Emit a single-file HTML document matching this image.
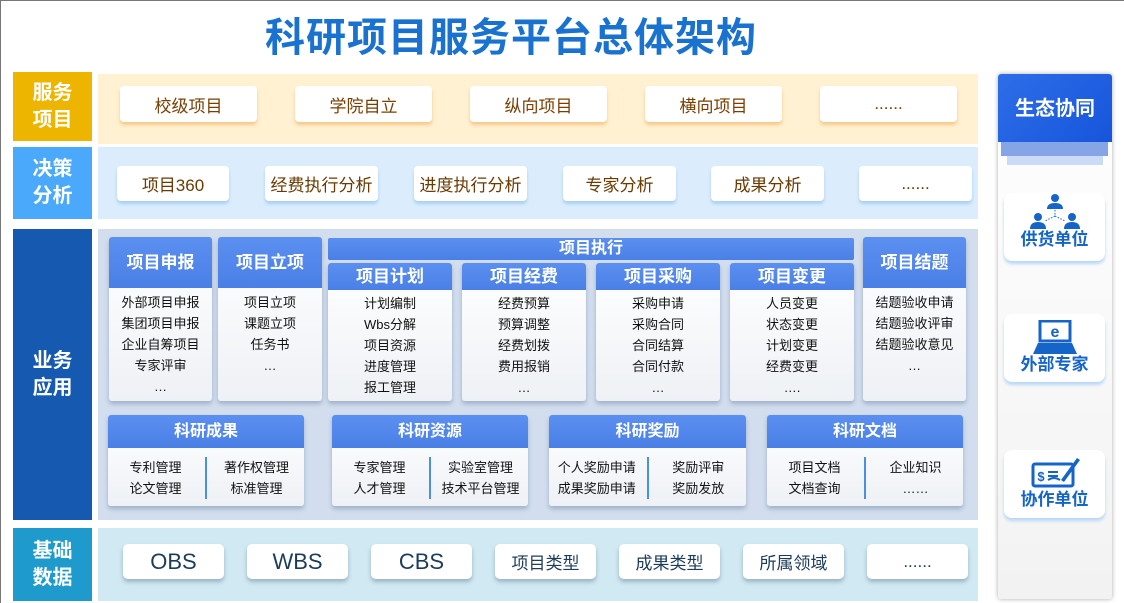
<!DOCTYPE html>
<html><head><meta charset="utf-8"><style>
*{margin:0;padding:0;box-sizing:border-box}
body{width:1124px;height:603px;background:#fff;position:relative;overflow:hidden;font-family:"Liberation Sans","Noto Sans CJK SC",sans-serif;border-top:1px solid #777;border-left:1px solid #777}
.a{position:absolute}
.title{left:0;width:1020px;top:4px;text-align:center;font-size:40px;font-weight:bold;color:#1a72d0;letter-spacing:1px}
.lab{color:#fff;font-weight:bold;font-size:20px;line-height:27px;display:flex;align-items:center;justify-content:center;text-align:center}
.box{background:#fff;border-radius:4px;display:flex;align-items:center;justify-content:center;font-size:17px}
.b1{box-shadow:0 3px 3px #f7c98a;color:#7a3e00}
.b2{box-shadow:0 3px 3px #a9d0f5;color:#6a3a00}
.b4{box-shadow:0 3px 4px #9ab4c6;color:#1d3c5a;border-radius:5px}
.card{background:linear-gradient(#fff,#eef1f5);border-radius:3px;box-shadow:0 3px 5px #9fb0c8;overflow:hidden}
.hd{background:linear-gradient(#5b8ff0,#4a7fe6);color:#fff;font-weight:bold;text-align:center}
.lst{text-align:center;font-size:13px;line-height:21px;color:#111}
.two{display:flex;font-size:13px;line-height:21px;color:#111;margin-top:9px}
.two div{flex:1;text-align:center}
.two .sep{flex:0 0 2px;background:#4a90e0;margin:0 2px}
.rc{background:#fff;border-radius:8px;box-shadow:0 3px 3px #b9d6f7;color:#1565c8;font-weight:bold;font-size:17px;text-align:center}
</style></head><body>
<div class="a title">科研项目服务平台总体架构</div>

<div class="a lab" style="left:12px;top:71px;width:79px;height:69px;background:#edb400">服务<br>项目</div>
<div class="a" style="left:97px;top:73px;width:880px;height:70px;background:#fff1d1"></div>
<div class="a box b1" style="left:119px;top:85px;width:137px;height:36px">校级项目</div>
<div class="a box b1" style="left:294px;top:85px;width:137px;height:36px">学院自立</div>
<div class="a box b1" style="left:469px;top:85px;width:137px;height:36px">纵向项目</div>
<div class="a box b1" style="left:644px;top:85px;width:137px;height:36px">横向项目</div>
<div class="a box b1" style="left:819px;top:85px;width:137px;height:36px">......</div>

<div class="a lab" style="left:12px;top:146px;width:79px;height:72px;background:#4aa9fa">决策<br>分析</div>
<div class="a" style="left:97px;top:146px;width:880px;height:72px;background:#dbedfc"></div>
<div class="a box b2" style="left:116px;top:165px;width:112px;height:35px">项目360</div>
<div class="a box b2" style="left:264px;top:165px;width:113px;height:35px">经费执行分析</div>
<div class="a box b2" style="left:413px;top:165px;width:113px;height:35px">进度执行分析</div>
<div class="a box b2" style="left:562px;top:165px;width:113px;height:35px">专家分析</div>
<div class="a box b2" style="left:710px;top:165px;width:113px;height:35px">成果分析</div>
<div class="a box b2" style="left:858px;top:165px;width:113px;height:35px">......</div>

<div class="a lab" style="left:12px;top:228px;width:79px;height:291px;background:#1559b0">业务<br>应用</div>
<div class="a" style="left:97px;top:228px;width:880px;height:291px;background:#d2deee"></div>

<div class="a card" style="left:108px;top:236px;width:103px;height:164px"><div class="hd" style="height:51px;line-height:51px;font-size:17px">项目申报</div><div class="lst" style="padding-top:4px">外部项目申报<br>集团项目申报<br>企业自筹项目<br>专家评审<br>…</div></div>
<div class="a card" style="left:217px;top:236px;width:104px;height:164px"><div class="hd" style="height:51px;line-height:51px;font-size:17px">项目立项</div><div class="lst" style="padding-top:4px">项目立项<br>课题立项<br>任务书<br>…</div></div>
<div class="a hd" style="left:327px;top:237px;width:526px;height:22px;line-height:22px;font-size:16px;border-radius:2px">项目执行</div>
<div class="a card" style="left:327px;top:262px;width:124px;height:138px"><div class="hd" style="height:27px;line-height:27px;font-size:17px">项目计划</div><div class="lst" style="padding-top:3px">计划编制<br>Wbs分解<br>项目资源<br>进度管理<br>报工管理</div></div>
<div class="a card" style="left:461px;top:262px;width:124px;height:138px"><div class="hd" style="height:27px;line-height:27px;font-size:17px">项目经费</div><div class="lst" style="padding-top:3px">经费预算<br>预算调整<br>经费划拨<br>费用报销<br>…</div></div>
<div class="a card" style="left:595px;top:262px;width:124px;height:138px"><div class="hd" style="height:27px;line-height:27px;font-size:17px">项目采购</div><div class="lst" style="padding-top:3px">采购申请<br>采购合同<br>合同结算<br>合同付款<br>…</div></div>
<div class="a card" style="left:729px;top:262px;width:124px;height:138px"><div class="hd" style="height:27px;line-height:27px;font-size:17px">项目变更</div><div class="lst" style="padding-top:3px">人员变更<br>状态变更<br>计划变更<br>经费变更<br>….</div></div>
<div class="a card" style="left:862px;top:236px;width:103px;height:164px"><div class="hd" style="height:51px;line-height:51px;font-size:17px">项目结题</div><div class="lst" style="padding-top:4px">结题验收申请<br>结题验收评审<br>结题验收意见<br>…</div></div>

<div class="a card" style="left:107px;top:414px;width:196px;height:91px"><div class="hd" style="height:33px;line-height:33px;font-size:16px">科研成果</div><div class="two"><div>专利管理<br>论文管理</div><div class="sep"></div><div>著作权管理<br>标准管理</div></div></div>
<div class="a card" style="left:331px;top:414px;width:196px;height:91px"><div class="hd" style="height:33px;line-height:33px;font-size:16px">科研资源</div><div class="two"><div>专家管理<br>人才管理</div><div class="sep"></div><div>实验室管理<br>技术平台管理</div></div></div>
<div class="a card" style="left:548px;top:414px;width:197px;height:91px"><div class="hd" style="height:33px;line-height:33px;font-size:16px">科研奖励</div><div class="two"><div>个人奖励申请<br>成果奖励申请</div><div class="sep"></div><div>奖励评审<br>奖励发放</div></div></div>
<div class="a card" style="left:766px;top:414px;width:196px;height:91px"><div class="hd" style="height:33px;line-height:33px;font-size:16px">科研文档</div><div class="two"><div>项目文档<br>文档查询</div><div class="sep"></div><div>企业知识<br>……</div></div></div>

<div class="a lab" style="left:12px;top:527px;width:79px;height:73px;background:#1e9acc">基础<br>数据</div>
<div class="a" style="left:97px;top:527px;width:880px;height:73px;background:#d0e9f2"></div>
<div class="a box b4" style="left:122px;top:543px;width:101px;height:35px;font-size:22px">OBS</div>
<div class="a box b4" style="left:246px;top:543px;width:101px;height:35px;font-size:22px">WBS</div>
<div class="a box b4" style="left:370px;top:543px;width:101px;height:35px;font-size:22px">CBS</div>
<div class="a box b4" style="left:494px;top:543px;width:101px;height:35px">项目类型</div>
<div class="a box b4" style="left:618px;top:543px;width:101px;height:35px">成果类型</div>
<div class="a box b4" style="left:742px;top:543px;width:101px;height:35px">所属领域</div>
<div class="a box b4" style="left:866px;top:543px;width:101px;height:35px">......</div>

<div class="a" style="left:997px;top:73px;width:114px;height:525px;background:linear-gradient(#fff,#f2f2f2);box-shadow:0 0 5px #aaa;border-radius:3px"></div>
<div class="a" style="left:997px;top:73px;width:114px;height:68px;background:linear-gradient(135deg,#2e6ee8,#1655db);border-radius:3px 3px 0 0;color:#fff;font-weight:bold;font-size:20px;line-height:70px;text-align:center">生态协同</div>
<div class="a" style="left:1000px;top:141px;width:107px;height:14px;background:#86a5e6"></div>
<div class="a" style="left:1006px;top:155px;width:96px;height:9px;background:#cbdaf6"></div>

<div class="a rc" style="left:1003px;top:192px;width:101px;height:68px">
<svg width="70" height="40" viewBox="0 0 70 40" style="display:block;margin:0 auto"><g fill="#1565c8"><circle cx="35" cy="5" r="4"/><path d="M27 16q0-6 8-6t8 6z"/><circle cx="18" cy="24" r="4"/><path d="M10 36q0-7 8-7t8 7z"/><circle cx="52" cy="24" r="4"/><path d="M44 36q0-7 8-7t8 7z"/></g><path d="M35 17v6M35 23l-10 5M35 23l10 5" stroke="#1565c8" stroke-dasharray="1.5 1.5" fill="none"/></svg>
<div style="margin-top:-8px">供货单位</div></div>
<div class="a rc" style="left:1003px;top:313px;width:101px;height:68px">
<svg width="50" height="36" viewBox="0 0 50 36" style="display:block;margin:6px auto 0"><rect x="10" y="1" width="30" height="20" fill="none" stroke="#1565c8" stroke-width="3"/><text x="25" y="17" font-size="16" font-weight="bold" fill="#1565c8" text-anchor="middle" font-family="Liberation Sans">e</text><path d="M8 23h34l5 11H3z" fill="#1565c8"/></svg>
<div style="margin-top:-6px">外部专家</div></div>
<div class="a rc" style="left:1003px;top:449px;width:101px;height:68px">
<svg width="60" height="34" viewBox="0 0 60 34" style="display:block;margin:4px auto 0"><rect x="8" y="10" width="40" height="22" rx="2" fill="none" stroke="#1565c8" stroke-width="3"/><text x="16" y="27" font-size="13" font-weight="bold" fill="#1565c8" text-anchor="middle" font-family="Liberation Sans">$</text><path d="M23 18h10M23 22h10M23 26q6-4 12 0" stroke="#1565c8" stroke-width="2" fill="none"/><path d="M36 26l16-22 3 2-16 22z" fill="#1565c8"/></svg>
<div style="margin-top:-3px">协作单位</div></div>
</body></html>
